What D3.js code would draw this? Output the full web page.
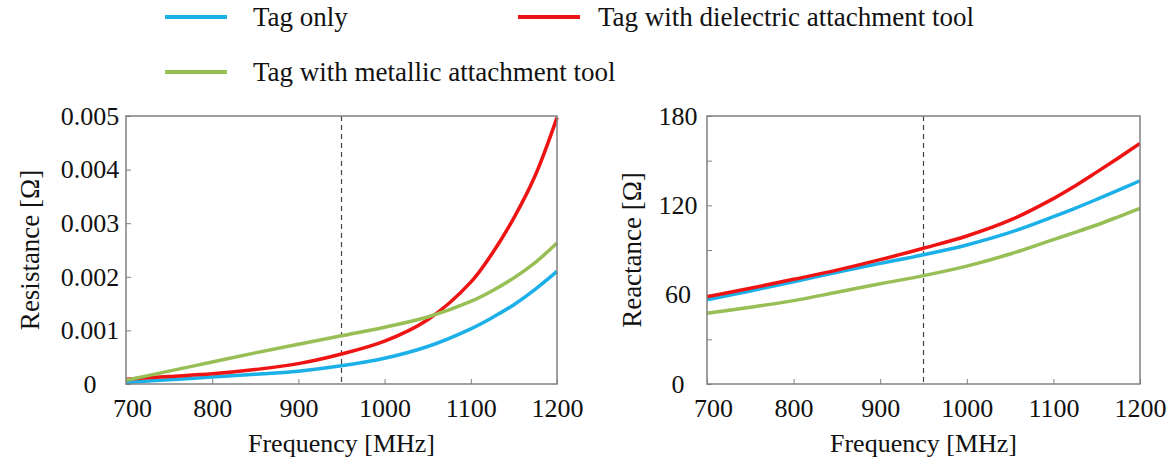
<!DOCTYPE html>
<html>
<head>
<meta charset="utf-8">
<script src="https://cdn.jsdelivr.net/npm/d3@7"></script>
<style>
    body { margin: 0; background: #fff; }
    text { font-family: "Liberation Serif", "Times New Roman", serif; fill: #111; }
</style>
</head>
<body>
<div id="chart"></div>
<script>
// frequencies in MHz
const freq = [700, 750, 800, 850, 900, 950, 1000, 1050, 1100, 1125, 1150, 1175, 1200];

// resistance [Ohm]
const resTagOnly = [0.00003, 0.00008, 0.00013, 0.00018, 0.00024, 0.00034, 0.00048, 0.0007, 0.00103, 0.00124, 0.00148, 0.00177, 0.0021];
const resDielectric = [0.00009, 0.00014, 0.00019, 0.00027, 0.00038, 0.00056, 0.0008, 0.0012, 0.0019, 0.00244, 0.0031, 0.0039, 0.00497];
const resMetallic = [0.00007, 0.00024, 0.00041, 0.00058, 0.00074, 0.0009, 0.00106, 0.00125, 0.00154, 0.00174, 0.00198, 0.00227, 0.00263];

// reactance [Ohm]
const reaTagOnly = [56.5, 62.5, 68.7, 75, 81, 86.8, 93.4, 101.8, 112.4, 118, 124, 130.2, 136.5];
const reaDielectric = [58.6, 64.3, 70.3, 76.5, 83.5, 91.2, 99.4, 110, 124.5, 133, 142.3, 151.8, 161.6];
const reaMetallic = [47.5, 51.5, 56, 61.6, 67.3, 72.8, 79.2, 87.3, 97, 101.8, 106.8, 112.3, 118];

const xTicks = [700, 800, 900, 1000, 1100, 1200];
const resTicks = [0, 0.001, 0.002, 0.003, 0.004, 0.005];
const reaTicks = [0, 60, 120, 180];
const reaMinorTicks = [30, 90, 150];
const markerFreq = 950;

const seriesNames = ["Tag only", "Tag with dielectric attachment tool", "Tag with metallic attachment tool"];
const colors = ["#1bb0e8", "#ee1414", "#97bf55"];

const width = 1174, height = 463;
const plotTop = 116, plotBottom = 384;

const svg = d3.select("#chart").append("svg")
    .attr("width", width)
    .attr("height", height);

// legend
const legendPos = [[165, 17], [518, 17], [165, 72]];
seriesNames.forEach(function (name, i) {
    const g = svg.append("g").attr("transform", "translate(" + legendPos[i][0] + "," + legendPos[i][1] + ")");
    g.append("line")
        .attr("x1", 0).attr("x2", 62)
        .attr("stroke", colors[i])
        .attr("stroke-width", 4);
    g.append("text")
        .attr("x", i === 1 ? 80 : 88)
        .attr("dy", "0.35em")
        .style("font-size", "27px")
        .text(name);
});

function drawPanel(opts) {
    const x = d3.scaleLinear().domain([700, 1200]).range([opts.left, opts.right]);
    const y = d3.scaleLinear().domain(opts.yDomain).range([plotBottom, plotTop]);

    const g = svg.append("g");

    // x axis (ticks inward)
    const xAxis = g.append("g")
        .attr("transform", "translate(0," + plotBottom + ")")
        .call(d3.axisBottom(x).tickValues(xTicks).tickSizeInner(-5).tickSizeOuter(0).tickPadding(15).tickFormat(d3.format("d")));
    // first label sits a little inside, like the original
    xAxis.selectAll(".tick text").filter(function (d) { return d === 700; }).attr("x", 6);

    // y axis, labels centred in a column left of the frame
    const yAxis = g.append("g")
        .attr("transform", "translate(" + opts.left + ",0)")
        .call(d3.axisLeft(y).tickValues(opts.yTicks).tickSizeInner(-5).tickSizeOuter(0).tickFormat(opts.yFormat));
    yAxis.selectAll(".tick text")
        .attr("text-anchor", "middle")
        .attr("x", opts.yLabelCenter - opts.left);

    if (opts.yMinor) {
        g.append("g")
            .attr("transform", "translate(" + opts.left + ",0)")
            .call(d3.axisLeft(y).tickValues(opts.yMinor).tickSizeInner(-5).tickSizeOuter(0).tickFormat(""));
    }

    g.selectAll(".tick line").attr("stroke", "#808080");
    g.selectAll(".domain").remove();
    g.selectAll(".tick text").style("font-size", "26px").attr("fill", "#111");

    // dashed marker
    g.append("line")
        .attr("x1", x(markerFreq)).attr("x2", x(markerFreq))
        .attr("y1", plotTop).attr("y2", plotBottom)
        .attr("stroke", "#444")
        .attr("stroke-width", 1.2)
        .attr("stroke-dasharray", "5,4");

    const line = d3.line()
        .x(function (d) { return x(d[0]); })
        .y(function (d) { return y(d[1]); })
        .curve(d3.curveCatmullRom);

    opts.series.forEach(function (vals, i) {
        g.append("path")
            .datum(freq.map(function (f, k) { return [f, vals[k]]; }))
            .attr("fill", "none")
            .attr("stroke", colors[i])
            .attr("stroke-width", 3.5)
            .attr("d", line);
    });

    // frame
    g.append("rect")
        .attr("x", opts.left).attr("y", plotTop)
        .attr("width", opts.right - opts.left).attr("height", plotBottom - plotTop)
        .attr("fill", "none")
        .attr("stroke", "#808080")
        .attr("stroke-width", 1.5);

    // axis titles
    g.append("text")
        .attr("x", (opts.left + opts.right) / 2)
        .attr("y", 452)
        .attr("text-anchor", "middle")
        .style("font-size", "26px")
        .text("Frequency [MHz]");

    g.append("text")
        .attr("transform", "translate(" + opts.yLabelX + ",250) rotate(-90)")
        .attr("text-anchor", "middle")
        .attr("dy", "0.35em")
        .style("font-size", "27px")
        .text(opts.yLabel);
}

drawPanel({
    left: 126, right: 557,
    yDomain: [0, 0.005],
    yTicks: resTicks,
    yFormat: function (d) { return d === 0 ? "0" : d3.format(".3f")(d); },
    series: [resTagOnly, resDielectric, resMetallic],
    yLabel: "Resistance [\u03A9]",
    yLabelX: 30,
    yLabelCenter: 90
});

drawPanel({
    left: 707, right: 1140,
    yDomain: [0, 180],
    yTicks: reaTicks,
    yMinor: reaMinorTicks,
    yFormat: d3.format("d"),
    series: [reaTagOnly, reaDielectric, reaMetallic],
    yLabel: "Reactance [\u03A9]",
    yLabelX: 632,
    yLabelCenter: 678
});
</script>
</body>
</html>
